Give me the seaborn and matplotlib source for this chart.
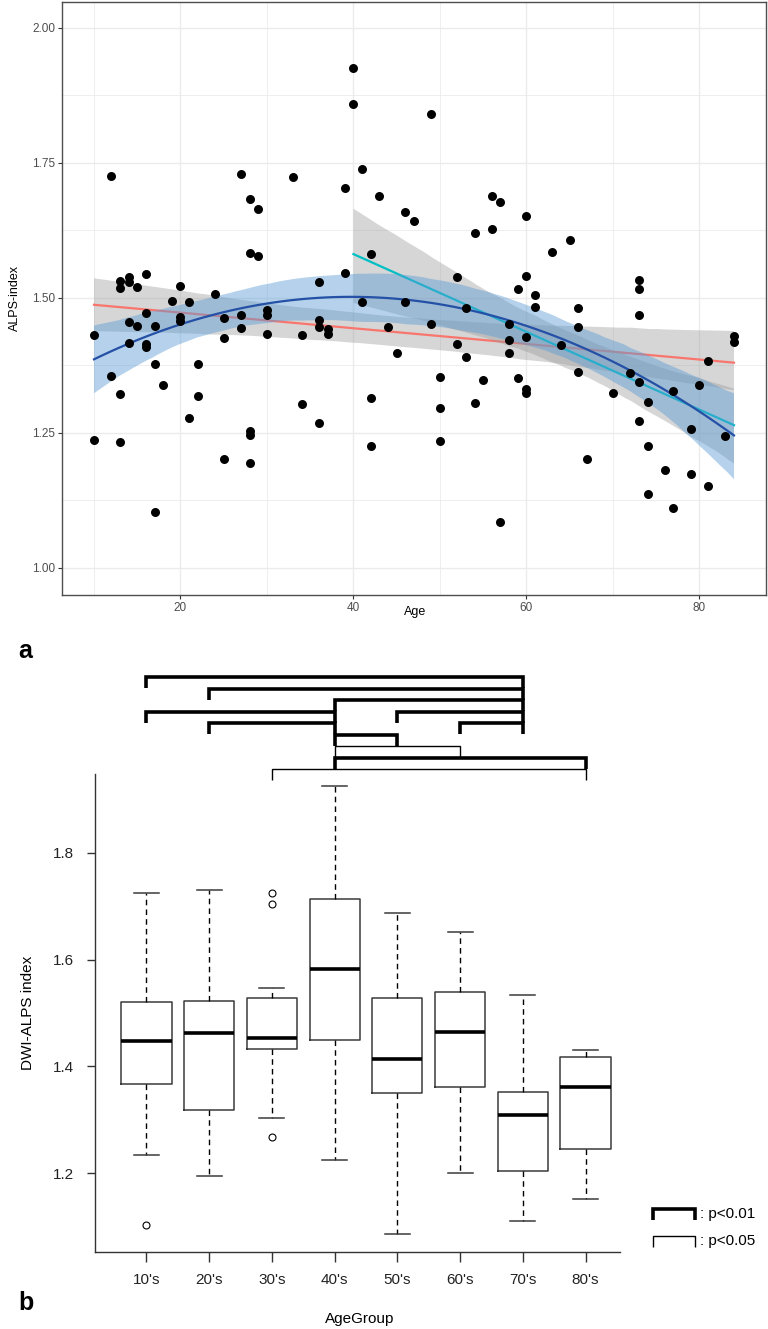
import numpy
import pandas
import seaborn
import matplotlib

matplotlib.use("Agg")

import matplotlib.pyplot
import matplotlib.transforms
from matplotlib.lines import Line2D
from matplotlib.ticker import MultipleLocator, FormatStrFormatter

# data: age and ALPS-index per subject
ages = [
    10, 10, 12, 12, 13, 13, 13, 13, 14, 14, 14, 14, 15, 15,
    16, 16, 16, 16, 17, 17, 17, 18, 19,
    20, 20, 20, 21, 21, 22, 22, 24, 25, 25, 25, 27, 27, 27,
    28, 28, 28, 28, 28, 29, 29,
    30, 30, 30, 33, 34, 34, 36, 36, 36, 36, 37, 37, 39, 39,
    40, 40, 41, 41, 42, 42, 42, 43, 44, 45, 46, 46, 47, 49, 49,
    50, 50, 50, 52, 52, 53, 53, 54, 54, 55, 56, 56, 57, 57,
    58, 58, 58, 59, 59,
    60, 60, 60, 60, 60, 61, 61, 63, 64, 65, 66, 66, 66, 67,
    70, 72, 73, 73, 73, 73, 73, 74, 74, 74, 76, 77, 77, 79, 79,
    80, 81, 81, 83, 84, 84,
]
alps = [
    1.431, 1.237, 1.725, 1.356, 1.531, 1.519, 1.323, 1.234, 1.538, 1.530, 1.456, 1.417, 1.521, 1.448,
    1.544, 1.473, 1.415, 1.410, 1.449, 1.377, 1.103, 1.339, 1.494,
    1.522, 1.465, 1.457, 1.493, 1.278, 1.377, 1.319, 1.507, 1.463, 1.425, 1.202, 1.730, 1.468, 1.444,
    1.683, 1.583, 1.254, 1.246, 1.194, 1.665, 1.577,
    1.478, 1.469, 1.433, 1.724, 1.432, 1.304, 1.529, 1.459, 1.447, 1.268, 1.442, 1.433, 1.704, 1.546,
    1.926, 1.860, 1.738, 1.493, 1.582, 1.314, 1.225, 1.688, 1.446, 1.398, 1.659, 1.493, 1.642, 1.841, 1.452,
    1.353, 1.296, 1.236, 1.539, 1.414, 1.482, 1.391, 1.620, 1.306, 1.348, 1.688, 1.628, 1.677, 1.086,
    1.452, 1.422, 1.399, 1.517, 1.351,
    1.651, 1.540, 1.427, 1.332, 1.324, 1.506, 1.484, 1.585, 1.413, 1.607, 1.482, 1.447, 1.362, 1.201,
    1.324, 1.361, 1.533, 1.517, 1.468, 1.344, 1.273, 1.308, 1.226, 1.137, 1.182, 1.328, 1.111, 1.257, 1.174,
    1.338, 1.384, 1.151, 1.245, 1.430, 1.418,
]

age_groups = ["10's", "20's", "30's", "40's", "50's", "60's", "70's", "80's"]

# significant pairwise comparisons (group, group, p threshold)
comparisons = [
    ("10's", "70's", 0.01),
    ("20's", "70's", 0.01),
    ("40's", "70's", 0.01),
    ("10's", "40's", 0.01),
    ("50's", "70's", 0.01),
    ("20's", "40's", 0.01),
    ("60's", "70's", 0.01),
    ("40's", "50's", 0.01),
    ("40's", "60's", 0.05),
    ("40's", "80's", 0.01),
    ("30's", "80's", 0.05),
]
# stacking row of each bracket above the boxes
bracket_rows = [0, 1, 2, 3, 3, 4, 4, 5, 6, 7, 8]

W, H = 768, 1329


def rect(left, top, right, bottom):
    # pixel box -> figure fraction rect
    return [left / W, 1 - bottom / H, (right - left) / W, (bottom - top) / H]


def fx(x):
    return x / W


def fy(y):
    return 1 - y / H


def r_boxstats(values, label):
    """Tukey hinges and 1.5 IQR whiskers as R's boxplot() computes them."""
    v = numpy.sort(numpy.asarray(values, dtype=float))
    n = len(v)
    n4 = numpy.floor((n + 3) / 2) / 2
    idx = numpy.array([1, n4, (n + 1) / 2, n + 1 - n4, n]) - 1
    five = 0.5 * (v[numpy.floor(idx).astype(int)] + v[numpy.ceil(idx).astype(int)])
    q1, med, q3 = five[1], five[2], five[3]
    lo, hi = q1 - 1.5 * (q3 - q1), q3 + 1.5 * (q3 - q1)
    inside = v[(v >= lo) & (v <= hi)]
    return dict(
        label=label, med=med, q1=q1, q3=q3,
        whislo=inside.min(), whishi=inside.max(),
        fliers=v[(v < lo) | (v > hi)],
    )


def main():
    matplotlib.pyplot.rcParams["font.family"] = ["Liberation Sans", "DejaVu Sans"]

    df = pandas.DataFrame({"Age": ages, "ALPS": alps})
    df["AgeGroup"] = [f"{(a // 10) * 10}'s" for a in df["Age"]]

    fig = matplotlib.pyplot.figure(figsize=(W / 100, H / 100), dpi=100)

    # ---- panel a: scatter with smooths (linear, linear on 40+, quadratic on top)
    ax = fig.add_axes(rect(62, 2, 766, 595))
    smooths = [
        (df, 1, "#F8766D", "#999999", 0.4),
        (df[df["Age"] >= 40], 1, "#00BFC4", "#999999", 0.4),
        (df, 2, "#2450A6", "#5B9BD5", 0.45),
    ]
    for i, (sub, order, line_color, band_color, band_alpha) in enumerate(smooths):
        seaborn.regplot(
            data=sub, x="Age", y="ALPS", order=order, scatter=False,
            ci=95, n_boot=1000, seed=0, color=line_color,
            line_kws={"lw": 1.6}, ax=ax,
        )
        band = ax.collections[-1]
        band.set_facecolor(band_color)
        band.set_alpha(band_alpha)
        band.set_edgecolor("none")
        band.set_zorder(1 + 2 * i)
        ax.lines[-1].set_zorder(2 + 2 * i)

    seaborn.scatterplot(
        data=df, x="Age", y="ALPS", color="black", s=42,
        linewidth=0, zorder=10, ax=ax,
    )

    ax.set(xlim=(6.3, 87.7), ylim=(0.95, 2.048), xlabel="", ylabel="")
    ax.xaxis.set_major_locator(MultipleLocator(20))
    ax.xaxis.set_minor_locator(MultipleLocator(10))
    ax.yaxis.set_major_locator(MultipleLocator(0.25))
    ax.yaxis.set_minor_locator(MultipleLocator(0.125))
    ax.yaxis.set_major_formatter(FormatStrFormatter("%.2f"))
    ax.set_axisbelow(True)
    ax.grid(which="major", color="#ebebeb", lw=1.0)
    ax.grid(which="minor", color="#ebebeb", lw=0.6)
    ax.tick_params(which="major", length=3, width=0.8, color="#333333",
                   labelsize=8.5, labelcolor="#4d4d4d", pad=2)
    ax.tick_params(which="minor", length=0)
    for spine in ax.spines.values():
        spine.set_color("#4d4d4d")
        spine.set_linewidth(1.0)

    fig.text(fx(15), fy(298), "ALPS-index", rotation=90, ha="center", va="center", fontsize=9)
    fig.text(fx(415), fy(612), "Age", ha="center", va="center", fontsize=9)
    fig.text(fx(18), fy(658), "a", ha="left", va="baseline", fontsize=18, fontweight="bold")

    # ---- panel b: boxplot by age group
    bx = fig.add_axes(rect(95, 774, 620, 1252))
    positions = numpy.arange(1, len(age_groups) + 1)
    stats = [r_boxstats(df.loc[df["AgeGroup"] == g, "ALPS"], g) for g in age_groups]
    edge = "#3a3a3a"
    bx.bxp(
        stats, positions=positions, widths=0.8, capwidths=0.4,
        manage_ticks=False,
        boxprops=dict(color=edge, lw=1.1),
        whiskerprops=dict(color="black", lw=1.0, linestyle=(0, (4, 3))),
        capprops=dict(color=edge, lw=1.1),
        medianprops=dict(color="black", lw=2.6, solid_capstyle="butt"),
        flierprops=dict(marker="o", markerfacecolor="none", markeredgecolor="black",
                        markersize=5, markeredgewidth=0.8),
    )
    bx.set_xlim(0.18, 8.55)
    bx.set_ylim(1.052, 1.948)
    bx.set_xticks(positions, age_groups)
    bx.set_yticks([1.2, 1.4, 1.6, 1.8], ["1.2", "1.4", "1.6", "1.8"])
    bx.tick_params(axis="x", length=7, width=1, color="#333333", labelsize=11, pad=8,
                   labelcolor="#222222")
    bx.tick_params(axis="y", length=6, width=1, color="#333333", labelsize=11, pad=9,
                   labelcolor="#222222")
    for side in ("top", "right"):
        bx.spines[side].set_visible(False)
    for side in ("left", "bottom"):
        bx.spines[side].set_color("#333333")
        bx.spines[side].set_linewidth(1.0)

    # brackets: x in data units, y in pixels above the axes
    trans = matplotlib.transforms.blended_transform_factory(bx.transData, bx.transAxes)
    ax_h = 1252 - 774
    drop = 11 / ax_h
    for (g1, g2, p), row in zip(comparisons, bracket_rows):
        x1 = age_groups.index(g1) + 1
        x2 = age_groups.index(g2) + 1
        y = (1252 - (677 + 11.5 * row)) / ax_h
        bx.add_line(Line2D(
            [x1, x1, x2, x2], [y - drop, y, y, y - drop],
            transform=trans, clip_on=False, color="black",
            lw=2.6 if p == 0.01 else 1.0,
            solid_joinstyle="miter", solid_capstyle="butt",
        ))

    # key for bracket weight
    for top, p in ((1209, 0.01), (1236, 0.05)):
        fig.add_artist(Line2D(
            [fx(653), fx(653), fx(695), fx(695)],
            [fy(top + 11), fy(top), fy(top), fy(top + 11)],
            color="black", lw=2.6 if p == 0.01 else 1.0,
            solid_joinstyle="miter", solid_capstyle="butt",
        ))
        fig.text(fx(700), fy(top + 5), f": p<{p:.2f}", ha="left", va="center", fontsize=11)

    fig.text(fx(28), fy(1013), "DWI-ALPS index", rotation=90, ha="center", va="center", fontsize=11)
    fig.text(fx(360), fy(1319), "AgeGroup", ha="center", va="center", fontsize=11)
    fig.text(fx(18), fy(1310), "b", ha="left", va="baseline", fontsize=18, fontweight="bold")

    fig.savefig("out.png", dpi=100)


if __name__ == "__main__":
    main()
